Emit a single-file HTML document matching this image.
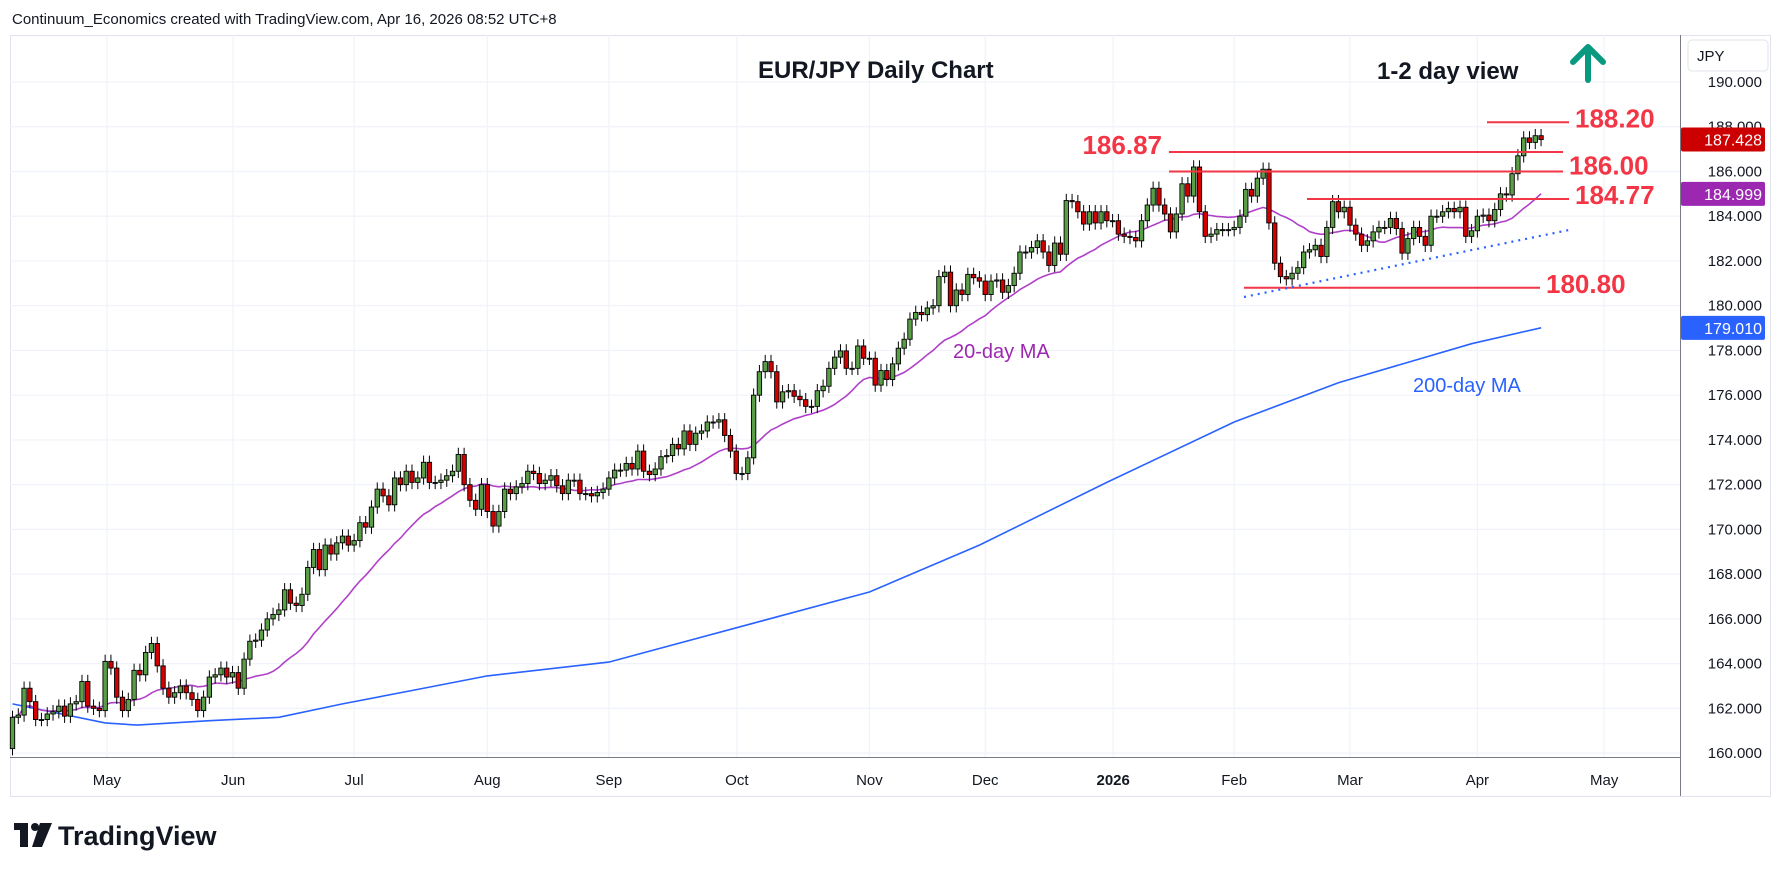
<!DOCTYPE html>
<html><head><meta charset="utf-8"><style>
html,body{margin:0;padding:0;background:#fff;}
body{width:1779px;height:872px;overflow:hidden;font-family:"Liberation Sans",sans-serif;}
svg text{font-family:"Liberation Sans",sans-serif;}
</style></head><body>
<svg id="chart" width="1779" height="872" viewBox="0 0 1779 872" xmlns="http://www.w3.org/2000/svg">
<text x="12" y="24" font-size="15" fill="#131722">Continuum_Economics created with TradingView.com, Apr 16, 2026 08:52 UTC+8</text>
<rect x="10.5" y="35.5" width="1760" height="761" fill="#fff" stroke="#e0e3eb"/>
<g id="grid"></g>
<g id="ma200g"></g>
<g id="ma20g"></g>
<g id="candles"></g>
<g id="annot"></g>
<line x1="10" y1="757.5" x2="1680" y2="757.5" stroke="#787b86" stroke-width="1"/>
<line x1="1680.5" y1="35" x2="1680.5" y2="796" stroke="#787b86" stroke-width="1"/>
<g id="yaxis"></g>
<g id="xaxis"></g>
<rect x="1688" y="40" width="80" height="31" rx="4" fill="#fff" stroke="#e0e3eb"/>
<text x="1697" y="61" font-size="15" fill="#131722">JPY</text>
<text x="758" y="78" font-size="24" font-weight="bold" fill="#131722">EUR/JPY Daily Chart</text>
<text x="1377" y="79" font-size="24" font-weight="bold" fill="#131722">1-2 day view</text>
<g stroke="#089981" stroke-width="6" fill="none" stroke-linecap="round" stroke-linejoin="round">
<line x1="1588" y1="48" x2="1588" y2="80"/><polyline points="1573,62 1588,47 1603,62"/></g>
<text x="953" y="358" font-size="20" fill="#9c27b0">20-day MA</text>
<text x="1413" y="392" font-size="20" fill="#2962ff">200-day MA</text>
<g>
<rect x="14" y="823" width="14" height="7" fill="#131722"/><rect x="20" y="823" width="8" height="24" fill="#131722"/>
<circle cx="35" cy="827" r="4" fill="#131722"/><polygon points="40,823 52,823 42,847 32,847" fill="#131722"/>
<text x="58" y="845" font-size="27" font-weight="bold" fill="#131722">TradingView</text></g>
</svg>
<script>
const closes=[161.6,161.7,162.9,162.3,161.5,161.5,161.75,161.85,162.1,161.65,
162.2,162.3,163.2,162.1,162.0,161.9,164.1,163.8,162.5,161.9,
162.4,163.7,163.5,164.5,164.9,163.9,162.9,162.5,162.7,163.0,
162.7,162.4,161.9,162.5,163.4,163.5,163.8,163.4,163.6,162.9,
164.2,165.0,165.05,165.5,166.0,166.2,166.4,167.3,166.7,166.6,
167.1,168.3,169.1,168.2,169.3,168.9,169.4,169.7,169.3,169.5,
170.3,170.1,171.0,171.8,171.5,171.1,172.3,172.0,172.6,172.1,
172.3,173.0,172.1,172.1,172.2,172.4,172.6,173.35,172.0,171.3,
170.9,172.0,170.8,170.15,170.8,171.8,171.6,171.9,172.05,172.6,
172.5,172.05,172.2,172.4,171.95,171.6,172.2,172.2,171.6,171.6,
171.5,171.65,171.8,172.3,172.65,172.65,172.95,172.7,173.5,172.6,
172.45,172.7,173.25,173.3,173.8,173.6,174.4,173.8,174.3,174.4,
174.8,174.8,174.9,174.2,173.5,172.5,172.5,173.2,176.0,177.05,
177.5,177.05,175.7,176.15,176.2,175.95,175.8,175.5,175.5,176.2,
176.4,177.2,177.7,177.98,177.2,177.2,178.2,177.65,177.65,176.45,
177.1,176.7,177.4,178.1,178.5,179.4,179.7,179.6,179.9,180.0,
181.3,181.5,180.0,180.7,180.5,181.4,181.25,181.1,180.5,181.1,
181.15,180.6,180.9,181.45,182.4,182.4,182.6,182.9,182.4,181.8,
182.8,182.3,184.7,184.65,184.2,183.65,184.2,183.7,184.2,183.8,
183.8,183.2,183.1,183.05,182.9,183.8,184.5,185.25,184.5,184.1,
183.3,184.1,185.45,184.9,186.2,184.2,183.1,183.2,183.4,183.4,
183.4,183.5,184.0,185.2,184.9,185.7,186.1,183.7,181.9,181.3,
181.2,181.45,181.7,182.4,182.5,182.7,182.2,183.5,184.65,184.2,
184.4,183.6,183.2,182.7,182.9,183.3,183.5,183.5,183.9,183.45,
182.35,183.0,183.5,183.1,182.7,184.0,184.0,184.2,184.35,184.2,
184.4,183.1,183.35,184.0,184.05,183.8,184.3,185.0,184.95,185.9,
186.7,187.5,187.3,187.6,187.43];
const firstOpen=160.2;
const ma200Idx=[0,16,21.5,34,46,57,69,82,103,125,148,167,189,211,229,252,264];
const ma200Val=[162.2,161.35,161.25,161.45,161.6,162.2,162.8,163.45,164.07,165.6,167.2,169.3,172.1,174.8,176.56,178.3,179.01];
const yTicks=[190,188,186,184,182,180,178,176,174,172,170,168,166,164,162,160];
const monthLabels=["May","Jun","Jul","Aug","Sep","Oct","Nov","Dec","2026","Feb","Mar","Apr","May"];
const monthIdx=[16.3,38.1,59,82,103,125.1,148,168,190.1,211,231,253,274.9];
const levelVals=[188.20,186.87,186.00,184.77,180.80];
const lastPrice=187.428, ma20Tag=184.999, ma200Tag=179.010;

const NS="http://www.w3.org/2000/svg";
const X=i=>12.5+i*5.79;
const Y=p=>82+(190-p)*22.37;
function mk(tag,attrs,parent){const e=document.createElementNS(NS,tag);for(const k in attrs)e.setAttribute(k,attrs[k]);parent.appendChild(e);return e;}
const grid=document.getElementById('grid'),yax=document.getElementById('yaxis'),xax=document.getElementById('xaxis');
yTicks.forEach(v=>{const y=Y(v);
 const l=mk('line',{x1:10,x2:1680,y1:y,y2:y,stroke:'#f0f3fa','stroke-width':1.2},grid);
 
 
 const t=mk('text',{x:1762,y:y+5,'font-size':15,fill:'#131722','text-anchor':'end'},yax);
 t.textContent=v.toFixed(3);
 
 
});
monthLabels.forEach((m,k)=>{const x=X(monthIdx[k]);
 const l=mk('line',{x1:x,x2:x,y1:35,y2:757,stroke:'#f0f3fa','stroke-width':1.2},grid);
 
 
 const t=mk('text',{x:x,y:785,'font-size':15,fill:'#131722','text-anchor':'middle','font-weight':m==='2026'?'bold':'normal'},xax);
 t.textContent=m;
 
 
});
// MA200
let d='';ma200Idx.forEach((i,k)=>{d+=(k?'L':'M')+X(i).toFixed(1)+','+Y(ma200Val[k]).toFixed(1);});
const p2=mk('path',{d:d,fill:'none',stroke:'#2962ff','stroke-width':1.6},document.getElementById('ma200g'));


// MA20
d='';closes.forEach((c,i)=>{const s=closes.slice(Math.max(0,i-19),i+1);const m=s.reduce((a,b)=>a+b,0)/s.length;d+=(i?'L':'M')+X(i).toFixed(1)+','+Y(m).toFixed(1);});
const p20=mk('path',{d:d,fill:'none',stroke:'#b040c8','stroke-width':1.6},document.getElementById('ma20g'));


// candles
const cg=document.getElementById('candles');
closes.forEach((c,i)=>{const o=i?closes[i-1]:firstOpen;const hi=Math.max(o,c)+0.3,lo=Math.min(o,c)-0.3;const x=X(i);
 const w=mk('line',{x1:x,x2:x,y1:Y(hi),y2:Y(lo),stroke:'#000','stroke-width':1},cg);
 
 
 const top=Y(Math.max(o,c)),h=Math.max(1,Y(Math.min(o,c))-top);
 const b=mk('rect',{x:x-2.2,y:top,width:4.4,height:h,fill:c>=o?'#5a9e47':'#d30000',stroke:'#000','stroke-width':0.9},cg);
 
 
});
// annotations
const an=document.getElementById('annot');
const lv=[[1487,1569,1575,'start'],[1169,1563,1162,'end'],[1169,1563,1569,'start'],[1307,1569,1575,'start'],[1244,1540,1546,'start']];
levelVals.forEach((v,k)=>{const y=Y(v);const s=lv[k];
 const l=mk('line',{x1:s[0],x2:s[1],y1:y,y2:y,stroke:'#f23645','stroke-width':2},an);
 
 
 const ty=k===1?y+2:(k===2?y+3:y+5);
 const t=mk('text',{x:s[2],y:ty,'font-size':26,'font-weight':'bold',fill:'#f23645','text-anchor':s[3]},an);
 t.textContent=v.toFixed(2);
 
 
});
const tl=mk('line',{x1:1244,y1:297,x2:1569,y2:230,stroke:'#2962ff','stroke-width':2.2,'stroke-dasharray':'2 5'},an);


[[lastPrice,'#cc0000'],[ma20Tag,'#9c27b0'],[ma200Tag,'#2962ff']].forEach(([v,col])=>{const y=Y(v);
 const r=mk('rect',{x:1681,y:y-12,width:84,height:24,rx:2,fill:col},yax);
 
 
 const t=mk('text',{x:1762,y:y+6,'font-size':16,fill:'#fff','text-anchor':'end'},yax);
 t.textContent=v.toFixed(3);
 
 
});
</script>
</body></html>
